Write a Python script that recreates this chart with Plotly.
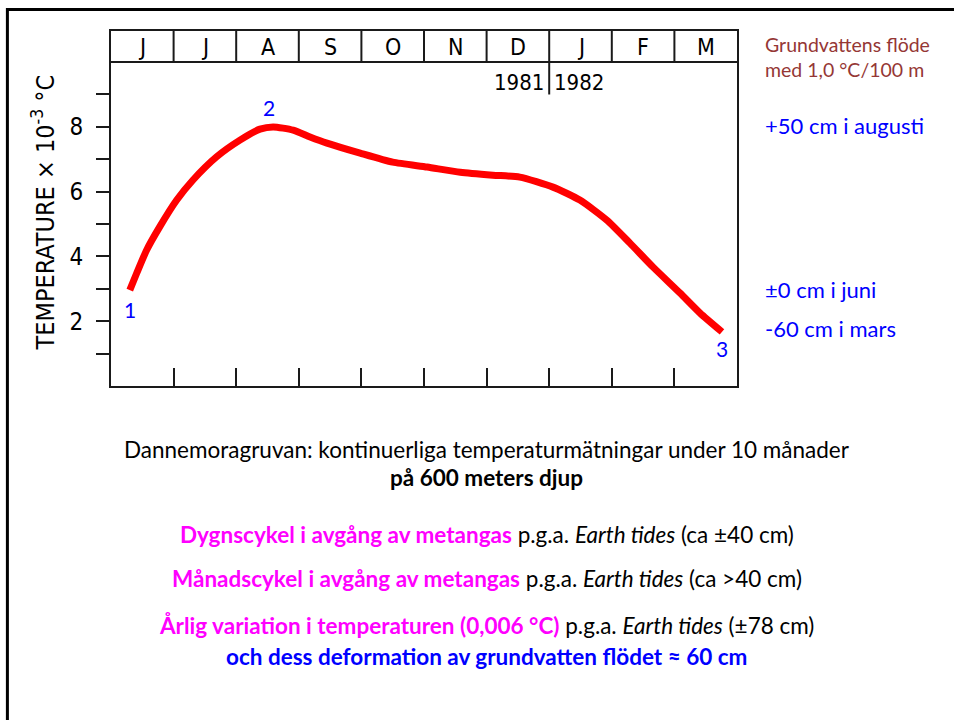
import plotly.graph_objects as go

# ---- data ----
months = ["J", "J", "A", "S", "O", "N", "D", "J", "F", "M"]
year_labels = ["1981", "1982"]
time_m = [0.30, 0.41, 0.57, 0.78, 1.05, 1.31, 1.69, 2.06, 2.38, 2.59, 2.91, 3.18,
          3.45, 3.98, 4.50, 5.05, 5.58, 6.10, 6.53, 7.06, 7.49, 7.92, 8.29, 8.66,
          9.09, 9.41, 9.76]
temp = [2.96, 3.48, 4.20, 4.92, 5.74, 6.36, 7.08, 7.59, 7.93, 8.00, 7.90, 7.69,
        7.50, 7.19, 6.91, 6.76, 6.60, 6.51, 6.45, 6.14, 5.74, 5.12, 4.41, 3.67,
        2.87, 2.25, 1.67]
ytick_major = [2, 4, 6, 8]
ytick_minor = [1, 3, 5, 7, 9]
xtick_vals = [1, 2, 3, 4, 5, 6, 7, 8, 9]

Y_TOP = 10.96
HEADER_Y = 10.0
SCAN_FONT = "DejaVu Sans Condensed, DejaVu Sans, sans-serif"
SLIDE_FONT = "Lato, Open Sans, sans-serif"
BLUE = "#0000ff"
MAGENTA = "#ff00ff"
DARK = "#1a1a1a"

fig = go.Figure()
fig.add_trace(go.Scatter(x=time_m, y=temp, mode="lines",
                         line=dict(color="#ff0000", width=7, shape="spline", smoothing=0.6),
                         hoverinfo="skip"))

shapes = []
shapes.append(dict(type="line", xref="x", yref="y", x0=0, x1=10, y0=HEADER_Y, y1=HEADER_Y,
                   line=dict(color=DARK, width=2)))
for i in range(1, len(months)):
    shapes.append(dict(type="line", xref="x", yref="y", x0=i, x1=i, y0=HEADER_Y, y1=Y_TOP,
                       line=dict(color=DARK, width=2)))
year_idx = months.index("D") + 1
shapes.append(dict(type="line", xref="x", yref="y", x0=year_idx, x1=year_idx, y0=HEADER_Y, y1=9.0,
                   line=dict(color=DARK, width=2)))
shapes.append(dict(type="rect", xref="paper", yref="paper", x0=-0.1655, x1=1.40, y0=-1.05, y1=1.0605,
                   line=dict(color="black", width=3), fillcolor="rgba(0,0,0,0)"))

ann = []
for i, m in enumerate(months):
    ann.append(dict(x=i + 0.5, y=(HEADER_Y + Y_TOP) / 2, xref="x", yref="y", text=m, showarrow=False,
                    font=dict(family=SCAN_FONT, size=23, color="black")))
ann.append(dict(x=year_idx, y=9.38, xref="x", yref="y", text=year_labels[0], showarrow=False,
                xanchor="right", xshift=-3, font=dict(family=SCAN_FONT, size=22, color="black")))
ann.append(dict(x=year_idx, y=9.38, xref="x", yref="y", text=year_labels[1], showarrow=False,
                xanchor="left", xshift=3, font=dict(family=SCAN_FONT, size=22, color="black")))
ann.append(dict(x=-0.108, y=0.49, xref="paper", yref="paper", textangle=-90,
                xanchor="center", yanchor="middle",
                text="TEMPERATURE × 10<sup>-3</sup> °C", showarrow=False,
                font=dict(family=SCAN_FONT, size=25, color="black")))
ann.append(dict(x=time_m[0], y=temp[0], xref="x", yref="y", text="1", showarrow=False,
                yshift=-19, font=dict(family=SLIDE_FONT, size=21, color=BLUE)))
pk = temp.index(max(temp))
ann.append(dict(x=time_m[pk], y=temp[pk], xref="x", yref="y", text="2", showarrow=False,
                xshift=-4, yshift=19, font=dict(family=SLIDE_FONT, size=21, color=BLUE)))
ann.append(dict(x=time_m[-1], y=temp[-1], xref="x", yref="y", text="3", showarrow=False,
                yshift=-17, font=dict(family=SLIDE_FONT, size=21, color=BLUE)))

RX = 1.0415
ann.append(dict(x=RX, y=0.927, xref="paper", yref="paper", xanchor="left", yanchor="middle", align="left",
                text="Grundvattens flöde<br>med 1,0 °C/100 m", showarrow=False,
                font=dict(family=SLIDE_FONT, size=19.5, color="#953735")))
for txt, yy in [("+50 cm i augusti", 0.735), ("±0 cm i juni", 0.273), ("-60 cm i mars", 0.161)]:
    ann.append(dict(x=RX, y=yy, xref="paper", yref="paper", xanchor="left", yanchor="middle",
                    text=txt, showarrow=False, font=dict(family=SLIDE_FONT, size=22, color=BLUE)))

CX = 0.6006
bottom = [
    ("Dannemoragruvan: kontinuerliga temperaturmätningar under 10 månader", -0.1775),
    ("<b>på 600 meters djup</b>", -0.259),
    (f"<b><span style='color:{MAGENTA}'>Dygnscykel i avgång av metangas</span></b> p.g.a. <i>Earth tides</i> (ca ±40 cm)", -0.417),
    (f"<b><span style='color:{MAGENTA}'>Månadscykel i avgång av metangas</span></b> p.g.a. <i>Earth tides</i> (ca >40 cm)", -0.541),
    (f"<b><span style='color:{MAGENTA}'>Årlig variation i temperaturen (0,006 °C)</span></b> p.g.a. <i>Earth tides</i> (±78 cm)", -0.676),
    (f"<b><span style='color:{BLUE}'>och dess deformation av grundvatten flödet ≈ 60 cm</span></b>", -0.761),
]
for txt, yy in bottom:
    ann.append(dict(x=CX, y=yy, xref="paper", yref="paper", xanchor="center", yanchor="middle",
                    text=txt, showarrow=False, font=dict(family=SLIDE_FONT, size=22.5, color="black")))

fig.update_layout(
    width=954, height=720,
    margin=dict(l=111, r=217, t=31, b=334),
    paper_bgcolor="white", plot_bgcolor="white",
    showlegend=False,
    shapes=shapes, annotations=ann,
    xaxis=dict(range=[0, 10], showgrid=False, zeroline=False, showline=True, mirror=True,
               linecolor=DARK, linewidth=2, ticks="inside", tickvals=xtick_vals, ticklen=18,
               tickwidth=2, tickcolor=DARK, showticklabels=False, fixedrange=True),
    yaxis=dict(range=[0, Y_TOP], showgrid=False, zeroline=False, showline=True, mirror=True,
               linecolor=DARK, linewidth=2, ticks="outside", tickvals=ytick_major,
               ticklen=13, tickwidth=2, tickcolor=DARK, ticklabelstandoff=8,
               minor=dict(tickvals=ytick_minor, ticks="outside", ticklen=13, tickwidth=2,
                          tickcolor=DARK, showgrid=False),
               tickfont=dict(family=SCAN_FONT, size=24, color="black"), fixedrange=True),
)

fig.write_html("out.html", config={"displayModeBar": False, "staticPlot": True},
               post_script="document.body.style.margin='0';document.body.style.overflow='hidden';")
